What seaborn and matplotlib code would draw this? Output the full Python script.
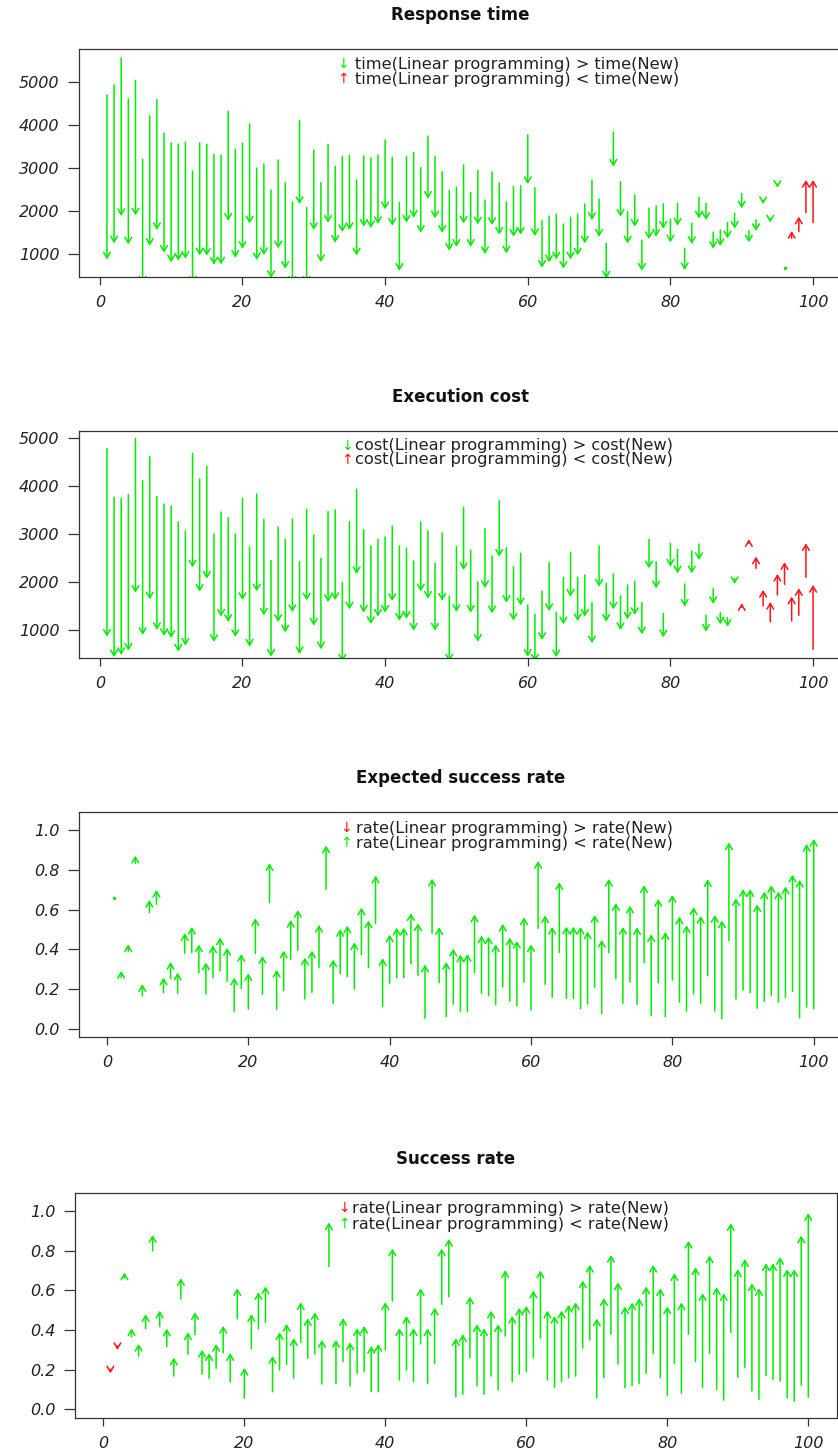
import matplotlib
matplotlib.use("Agg")
import matplotlib.pyplot as plt
from matplotlib.patches import FancyArrowPatch
import seaborn as sns

# run index (1..100)
runs = list(range(1, 101))

# Response time: linear programming vs new approach
time_lp = [4704, 4938, 5568, 4611, 5047, 3202, 4214, 4595, 3809, 3584,
           3560, 3607, 2930, 3584, 3552, 3319, 3303, 4323, 3436, 3584,
           4027, 3000, 3093, 2486, 3187, 2658, 2206, 4105, 2074, 3420,
           2658, 3552, 3039, 3265, 3296, 2720, 3280, 3233, 3303, 3654,
           3249, 2191, 3265, 3358, 3008, 3747, 3265, 2914, 2479, 2556,
           3070, 2432, 2946, 2253, 2907, 2650, 2206, 2564, 2588, 3770,
           2541, 1770, 1879, 1926, 1693, 1848, 1926, 2160, 2720, 2276,
           1241, 3840, 2681, 1980, 2370, 1319, 2066, 2113, 2160, 1809,
           2175, 1125, 1708, 2323, 2175, 1506, 1553, 1724, 1942, 2409,
           1537, 1786, 2253, 1825, 2626, 660, 1358, 1514, 1957, 1724]
time_new = [868, 1241, 1879, 1218, 1895, 300, 1187, 1553, 1023, 798,
            837, 883, 300, 961, 953, 743, 751, 1770, 907, 1117,
            1708, 852, 969, 430, 1125, 650, 300, 2160, 300, 1553,
            805, 1724, 1255, 1506, 1553, 961, 1630, 1599, 1693, 2035,
            1654, 603, 1724, 1840, 1490, 2284, 1825, 1490, 1070, 1163,
            1708, 1163, 1685, 992, 1669, 1444, 1008, 1397, 1444, 2626,
            1412, 673, 798, 868, 650, 868, 961, 1241, 1786, 1397,
            420, 3031, 1864, 1241, 1630, 603, 1342, 1397, 1584, 1265,
            1654, 619, 1226, 1825, 1786, 1117, 1179, 1358, 1584, 2058,
            1265, 1529, 2160, 1731, 2541, 660, 1529, 1864, 2720, 2720]

# Execution cost
cost_lp = [4785, 3771, 3743, 3826, 4993, 4118, 4618, 3785, 3632, 3590,
           3257, 3069, 4687, 4153, 4417, 3007, 3465, 3347, 3007, 3743,
           2736, 3840, 3312, 2451, 3153, 2896, 3319, 2431, 3521, 2986,
           2500, 3472, 3507, 2000, 3264, 3937, 3090, 2757, 2896, 2944,
           3174, 2757, 2708, 2444, 3257, 3069, 2396, 3028, 1715, 2743,
           3562, 2673, 2007, 3118, 2549, 3701, 2722, 2326, 2604, 1528,
           1333, 1819, 2410, 1375, 2104, 2625, 2104, 2153, 1576, 2757,
           1979, 2174, 1715, 1944, 2021, 1576, 2896, 2424, 1354, 2812,
           2687, 1965, 2653, 2799, 1312, 1868, 1368, 1264, 2076, 1479,
           2812, 2292, 1507, 1174, 1736, 1958, 1194, 1312, 2104, 604]
cost_new = [868, 440, 486, 576, 1785, 903, 1646, 1007, 882, 840,
            556, 681, 2312, 1806, 2076, 757, 1285, 1174, 861, 1632,
            660, 1812, 1312, 451, 1174, 958, 1382, 507, 1625, 1097,
            604, 1590, 1632, 350, 1437, 2174, 1368, 1132, 1285, 1368,
            1611, 1201, 1243, 993, 1812, 1660, 993, 1618, 350, 1382,
            2257, 1368, 764, 1882, 1354, 2535, 1576, 1201, 1521, 451,
            350, 799, 1403, 440, 1125, 1701, 1194, 1285, 729, 1910,
            1181, 1437, 1007, 1229, 1319, 917, 2292, 1875, 854, 2326,
            2187, 1493, 2187, 2465, 972, 1549, 1125, 1076, 1965, 1562,
            2896, 2535, 1840, 1590, 2174, 2417, 1701, 1875, 2812, 1944]

# Expected success rate
exp_lp = [0.660, 0.259, 0.390, 0.834, 0.165, 0.585, 0.627, 0.182, 0.252, 0.178,
          0.380, 0.383, 0.282, 0.175, 0.257, 0.291, 0.239, 0.087, 0.203, 0.099,
          0.380, 0.173, 0.635, 0.097, 0.192, 0.350, 0.395, 0.150, 0.183, 0.309,
          0.703, 0.128, 0.279, 0.262, 0.200, 0.373, 0.308, 0.531, 0.111, 0.229,
          0.257, 0.257, 0.328, 0.267, 0.052, 0.481, 0.232, 0.061, 0.124, 0.087,
          0.087, 0.282, 0.178, 0.166, 0.121, 0.210, 0.138, 0.116, 0.234, 0.094,
          0.506, 0.224, 0.158, 0.385, 0.153, 0.153, 0.101, 0.124, 0.207, 0.077,
          0.383, 0.252, 0.128, 0.235, 0.123, 0.333, 0.066, 0.232, 0.061, 0.245,
          0.133, 0.089, 0.175, 0.128, 0.267, 0.089, 0.050, 0.444, 0.150, 0.195,
          0.182, 0.103, 0.138, 0.168, 0.133, 0.158, 0.188, 0.055, 0.109, 0.101]
exp_new = [0.660, 0.291, 0.425, 0.872, 0.224, 0.649, 0.699, 0.257, 0.336, 0.282,
           0.481, 0.513, 0.424, 0.333, 0.420, 0.459, 0.407, 0.257, 0.376, 0.279,
           0.556, 0.366, 0.834, 0.296, 0.393, 0.548, 0.598, 0.358, 0.393, 0.523,
           0.923, 0.348, 0.502, 0.519, 0.435, 0.610, 0.545, 0.771, 0.355, 0.474,
           0.509, 0.509, 0.582, 0.531, 0.323, 0.756, 0.511, 0.336, 0.403, 0.373,
           0.376, 0.575, 0.469, 0.464, 0.425, 0.528, 0.459, 0.442, 0.561, 0.425,
           0.845, 0.571, 0.513, 0.738, 0.514, 0.514, 0.513, 0.489, 0.573, 0.447,
           0.755, 0.632, 0.513, 0.620, 0.511, 0.723, 0.476, 0.654, 0.487, 0.674,
           0.565, 0.521, 0.612, 0.568, 0.753, 0.573, 0.545, 0.939, 0.657, 0.703,
           0.703, 0.627, 0.691, 0.723, 0.691, 0.716, 0.776, 0.750, 0.931, 0.956]

# Success rate
succ_lp = [0.202, 0.320, 0.662, 0.367, 0.269, 0.407, 0.800, 0.418, 0.316, 0.168,
           0.557, 0.278, 0.377, 0.178, 0.157, 0.207, 0.286, 0.138, 0.458, 0.056,
           0.306, 0.407, 0.438, 0.089, 0.199, 0.227, 0.158, 0.338, 0.258, 0.279,
           0.128, 0.721, 0.131, 0.241, 0.118, 0.182, 0.190, 0.089, 0.089, 0.300,
           0.547, 0.148, 0.199, 0.140, 0.330, 0.131, 0.232, 0.530, 0.569, 0.064,
           0.077, 0.261, 0.118, 0.077, 0.168, 0.098, 0.370, 0.140, 0.178, 0.190,
           0.261, 0.359, 0.148, 0.111, 0.140, 0.160, 0.168, 0.310, 0.350, 0.059,
           0.160, 0.379, 0.229, 0.109, 0.120, 0.131, 0.182, 0.283, 0.160, 0.071,
           0.232, 0.081, 0.380, 0.241, 0.111, 0.283, 0.101, 0.047, 0.389, 0.162,
           0.212, 0.093, 0.051, 0.170, 0.152, 0.143, 0.059, 0.042, 0.121, 0.061]
succ_new = [0.182, 0.300, 0.690, 0.409, 0.330, 0.480, 0.880, 0.498, 0.407, 0.261,
            0.662, 0.389, 0.490, 0.300, 0.283, 0.330, 0.421, 0.283, 0.611, 0.209,
            0.480, 0.591, 0.620, 0.269, 0.389, 0.431, 0.359, 0.540, 0.460, 0.490,
            0.350, 0.943, 0.350, 0.460, 0.338, 0.409, 0.421, 0.320, 0.330, 0.540,
            0.811, 0.409, 0.471, 0.409, 0.611, 0.409, 0.513, 0.811, 0.860, 0.359,
            0.379, 0.569, 0.429, 0.409, 0.498, 0.429, 0.702, 0.471, 0.512, 0.522,
            0.599, 0.700, 0.498, 0.471, 0.498, 0.527, 0.540, 0.650, 0.729, 0.458,
            0.561, 0.779, 0.640, 0.519, 0.539, 0.561, 0.620, 0.729, 0.611, 0.519,
            0.687, 0.539, 0.850, 0.717, 0.586, 0.776, 0.616, 0.586, 0.939, 0.707,
            0.758, 0.636, 0.611, 0.737, 0.737, 0.768, 0.707, 0.707, 0.877, 0.990]

sns.set_theme(style="white")
plt.rcParams['font.family'] = ['DejaVu Sans']

GREEN = "#00ee00"
RED = "#ff1414"
INK = "#222222"

fig = plt.figure(figsize=(8.38, 14.52), dpi=100)
W, H = 838.0, 1452.0


def make_axes(left, right, top, bottom):
    return fig.add_axes([left / W, 1 - bottom / H, (right - left) / W, (bottom - top) / H])


def draw_arrows(ax, before, after, lower_is_better):
    for x, a, b in zip(runs, before, after):
        good = (b <= a) if lower_is_better else (b >= a)
        col = GREEN if good else RED
        if a == b:
            # zero length arrow: R only leaves a dot
            ax.plot([x], [a], marker='s', ms=1.3, color=col, lw=0)
            continue
        ax.add_patch(FancyArrowPatch((x, a), (x, b),
                                     arrowstyle='->,head_length=0.5,head_width=0.3',
                                     mutation_scale=8, color=col, lw=1.1,
                                     shrinkA=0, shrinkB=0))


def style_axes(ax, title, xlim, ylim, yticks, ylabels):
    ax.set_xlim(*xlim)
    ax.set_ylim(*ylim)
    xt = [0, 20, 40, 60, 80, 100]
    ax.set_xticks(xt, labels=[str(v) for v in xt], fontstyle='italic', fontsize=11.5, color=INK)
    ax.set_yticks(yticks, labels=ylabels, fontstyle='italic', fontsize=11.5, color=INK)
    ax.tick_params(axis='x', length=6, width=0.9, color='#333333', pad=7, bottom=True)
    ax.tick_params(axis='y', length=8, width=0.9, color='#333333', pad=6, left=True)
    for sp in ax.spines.values():
        sp.set_color('#333333')
        sp.set_linewidth(0.9)
    ax.set_title(title, fontsize=12, fontweight='bold', color='#111111', pad=21)
    ax.set_facecolor('white')


def legend_lines(ax, mx, tx, ys, items):
    for y, (sym, col, label) in zip(ys, items):
        ax.text(mx, y, sym, color=col, fontsize=10, ha='center', va='center',
                transform=ax.transAxes)
        ax.text(tx, y, label, color=INK, fontsize=11.7, ha='left', va='center',
                transform=ax.transAxes)


big_ticks = [1000, 2000, 3000, 4000, 5000]
big_labels = [str(v) for v in big_ticks]
rate_ticks = [0.0, 0.2, 0.4, 0.6, 0.8, 1.0]
rate_labels = [f"{v:.1f}" for v in rate_ticks]

# Response time
ax1 = make_axes(78.7, 841.3, 49.3, 277)
draw_arrows(ax1, time_lp, time_new, True)
style_axes(ax1, "Response time", (-2.96, 103.96), (456, 5770), big_ticks, big_labels)
legend_lines(ax1, 0.346, 0.362, [0.934, 0.868],
             [("↓", GREEN, "time(Linear programming) > time(New)"),
              ("↑", RED, "time(Linear programming) < time(New)")])

# Execution cost
ax2 = make_axes(78.7, 841.3, 430.7, 657.7)
draw_arrows(ax2, cost_lp, cost_new, True)
style_axes(ax2, "Execution cost", (-2.96, 103.96), (429, 5158), big_ticks, big_labels)
legend_lines(ax2, 0.352, 0.362, [0.933, 0.871],
             [("↓", GREEN, "cost(Linear programming) > cost(New)"),
              ("↑", RED, "cost(Linear programming) < cost(New)")])

# Expected success rate
ax3 = make_axes(78.7, 842, 812.3, 1037)
draw_arrows(ax3, exp_lp, exp_new, False)
style_axes(ax3, "Expected success rate", (-4, 104), (-0.042, 1.091), rate_ticks, rate_labels)
legend_lines(ax3, 0.350, 0.363, [0.929, 0.862],
             [("↓", RED, "rate(Linear programming) > rate(New)"),
              ("↑", GREEN, "rate(Linear programming) < rate(New)")])

# Success rate
ax4 = make_axes(74.7, 836.5, 1193, 1417.7)
draw_arrows(ax4, succ_lp, succ_new, False)
style_axes(ax4, "Success rate", (-4.06, 104), (-0.042, 1.092), rate_ticks, rate_labels)
legend_lines(ax4, 0.353, 0.364, [0.932, 0.862],
             [("↓", RED, "rate(Linear programming) > rate(New)"),
              ("↑", GREEN, "rate(Linear programming) < rate(New)")])

fig.savefig("out.png", dpi=100, facecolor='white')
